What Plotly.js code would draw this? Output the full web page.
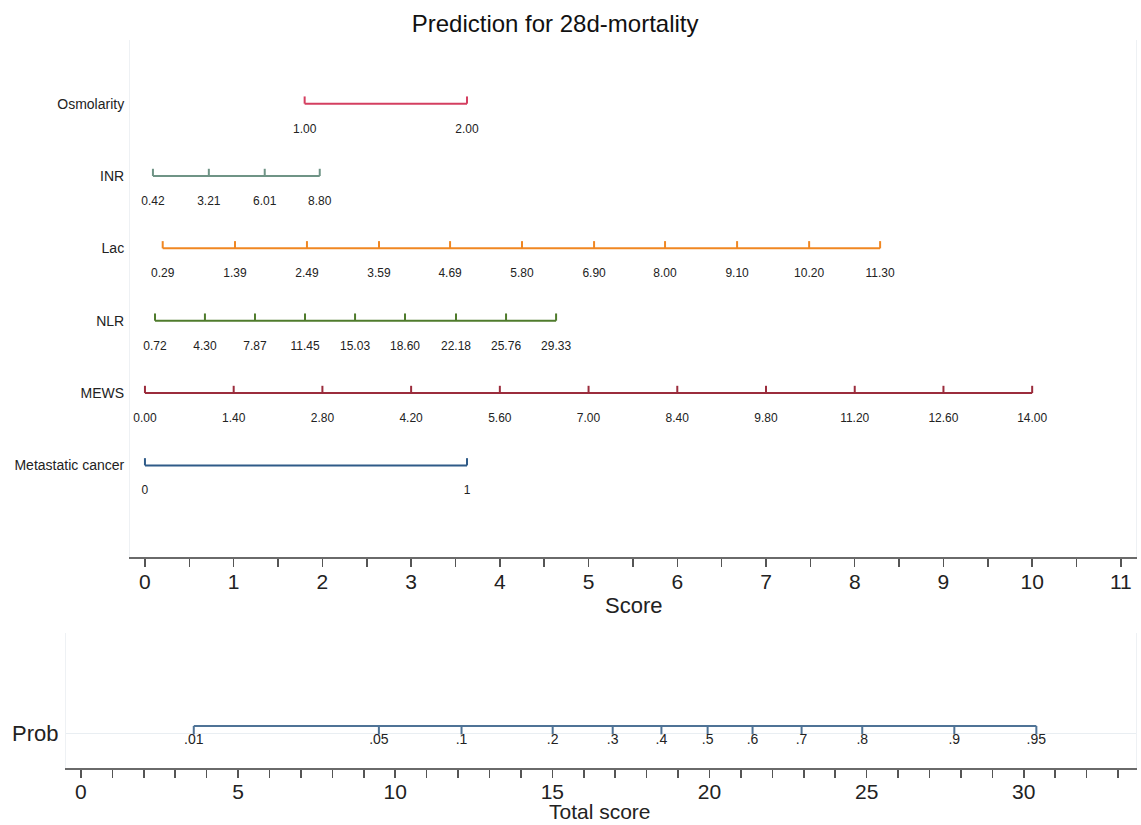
<!DOCTYPE html>
<html>
<head>
<meta charset="utf-8">
<script src="https://cdn.plot.ly/plotly-3.0.1.min.js"></script>
<style>html,body{margin:0;padding:0;background:#fff;}#chart{width:1141px;height:825px;}</style>
</head>
<body>
<div id="chart"></div>
<script>
// ---------- data ----------
const categories = ['Osmolarity', 'INR', 'Lac', 'NLR', 'MEWS', 'Metastatic cancer'];

const osmolarityLabels = ['1.00', '2.00'];
const osmolarityScores = [1.80, 3.63];

const inrLabels = ['0.42', '3.21', '6.01', '8.80'];
const inrScores = [0.09, 0.72, 1.35, 1.97];

const lacLabels = ['0.29', '1.39', '2.49', '3.59', '4.69', '5.80', '6.90', '8.00', '9.10', '10.20', '11.30'];
const lacScores = [0.20, 1.015, 1.826, 2.638, 3.439, 4.25, 5.062, 5.862, 6.674, 7.486, 8.286];

const nlrLabels = ['0.72', '4.30', '7.87', '11.45', '15.03', '18.60', '22.18', '25.76', '29.33'];
const nlrScores = [0.113, 0.676, 1.24, 1.804, 2.368, 2.931, 3.506, 4.07, 4.634];

const mewsLabels = ['0.00', '1.40', '2.80', '4.20', '5.60', '7.00', '8.40', '9.80', '11.20', '12.60', '14.00'];
const mewsScores = [0, 1, 2, 3, 4, 5, 6, 7, 8, 9, 10];

const metaLabels = ['0', '1'];
const metaScores = [0, 3.63];

const probLabels = ['.01', '.05', '.1', '.2', '.3', '.4', '.5', '.6', '.7', '.8', '.9', '.95'];
const probScores = [3.59, 9.48, 12.11, 15.01, 16.92, 18.47, 19.94, 21.37, 22.93, 24.86, 27.79, 30.40];

const scoreTicks = [0, 1, 2, 3, 4, 5, 6, 7, 8, 9, 10, 11];
const totalTicks = [0, 5, 10, 15, 20, 25, 30];

// ---------- styles ----------
const FONT = 'Liberation Sans, Arial, sans-serif';
const colors = ['#d43f60', '#6f9486', '#f08722', '#4f7b2c', '#9b2c3c', '#2f5b88'];
const probColor = '#4f7396';

const rows = [
  [osmolarityLabels, osmolarityScores],
  [inrLabels, inrScores],
  [lacLabels, lacScores],
  [nlrLabels, nlrScores],
  [mewsLabels, mewsScores],
  [metaLabels, metaScores]
];

const traces = [];
const nRows = categories.length;
const tickH = 0.1;     // upward tick height (y units)
const labelOff = 0.36; // label offset below line (y units)

rows.forEach(function (r, i) {
  const labels = r[0], scores = r[1];
  const yRow = nRows - i;
  const xs = [scores[0], scores[scores.length - 1]];
  const ys = [yRow, yRow];
  scores.forEach(function (s) {
    xs.push(null, s, s);
    ys.push(null, yRow, yRow + tickH);
  });
  traces.push({
    type: 'scatter', mode: 'lines', x: xs, y: ys, xaxis: 'x', yaxis: 'y',
    line: {color: colors[i], width: 2}, hoverinfo: 'skip', showlegend: false, connectgaps: false
  });
  traces.push({
    type: 'scatter', mode: 'text', x: scores, y: scores.map(function () { return yRow - labelOff; }),
    text: labels, textposition: 'middle center', xaxis: 'x', yaxis: 'y', cliponaxis: false,
    textfont: {family: FONT, size: 12, color: '#222'}, hoverinfo: 'skip', showlegend: false
  });
});

// probability row
(function () {
  const yLine = 1.2, yTick = 0.96, yLab = 0.78;
  const xs = [probScores[0], probScores[probScores.length - 1]];
  const ys = [yLine, yLine];
  probScores.forEach(function (s) {
    xs.push(null, s, s);
    ys.push(null, yLine, yTick);
  });
  traces.push({
    type: 'scatter', mode: 'lines', x: xs, y: ys, xaxis: 'x2', yaxis: 'y2',
    line: {color: probColor, width: 2}, hoverinfo: 'skip', showlegend: false, connectgaps: false
  });
  traces.push({
    type: 'scatter', mode: 'text', x: probScores, y: probScores.map(function () { return yLab; }),
    text: probLabels, textposition: 'middle center', xaxis: 'x2', yaxis: 'y2', cliponaxis: false,
    textfont: {family: FONT, size: 14, color: '#222'}, hoverinfo: 'skip', showlegend: false
  });
})();

const axisCommon = {
  showline: true, linecolor: '#6a6a6a', linewidth: 2,
  ticks: 'outside', ticklen: 8, tickwidth: 1.5, tickcolor: '#555',
  showgrid: false, zeroline: false, automargin: false,
  tickfont: {family: FONT, size: 21, color: '#222'}
};

const layout = {
  width: 1141, height: 825,
  margin: {l: 0, r: 0, t: 0, b: 0, pad: 0},
  paper_bgcolor: '#ffffff', plot_bgcolor: '#ffffff',
  font: {family: FONT, color: '#222'},
  title: {text: 'Prediction for 28d-mortality', x: 0.4865, xanchor: 'center', y: 0.971, yanchor: 'middle',
          font: {family: FONT, size: 24, color: '#111'}},
  xaxis: Object.assign({}, axisCommon, {
    domain: [0.1139, 0.9956], range: [-0.169, 11.17], anchor: 'y',
    tickvals: scoreTicks, ticktext: scoreTicks.map(String), ticklabelstandoff: -3,
    minor: {dtick: 0.5, tick0: 0, ticks: 'outside', ticklen: 8, tickwidth: 1.5, tickcolor: '#555', showgrid: false}
  }),
  yaxis: {
    domain: [0.3248, 0.9515], range: [-0.267, 6.88], anchor: 'x',
    tickvals: categories.map(function (c, i) { return nRows - i; }), ticktext: categories,
    ticks: '', showgrid: false, zeroline: false, automargin: false, ticklabelstandoff: 2,
    showline: true, linecolor: '#eef1f4', linewidth: 1, mirror: true,
    tickfont: {family: FONT, size: 14, color: '#222'}
  },
  xaxis2: Object.assign({}, axisCommon, {
    domain: [0.0578, 0.9956], range: [-0.477, 33.57], anchor: 'y2',
    tickvals: totalTicks, ticktext: totalTicks.map(String), ticklabelstandoff: -4,
    minor: {dtick: 1, tick0: 0, ticks: 'outside', ticklen: 8, tickwidth: 1.5, tickcolor: '#555', showgrid: false}
  }),
  yaxis2: {
    domain: [0.0691, 0.2327], range: [0, 3.857], anchor: 'x2',
    tickvals: [1], ticktext: ['Prob'], ticklabelstandoff: 2,
    ticks: '', showgrid: true, gridcolor: '#e9eef2', gridwidth: 1, zeroline: false, automargin: false,
    showline: true, linecolor: '#eef1f4', linewidth: 1, mirror: true,
    tickfont: {family: FONT, size: 22, color: '#222'}
  },
  annotations: [
    {text: 'Score', xref: 'paper', yref: 'paper', x: 633 / 1141, y: 1 - 605 / 825,
     xanchor: 'center', yanchor: 'middle', showarrow: false, font: {family: FONT, size: 22, color: '#222'}},
    {text: 'Total score', xref: 'paper', yref: 'paper', x: 600 / 1141, y: 1 - 811 / 825,
     xanchor: 'center', yanchor: 'middle', showarrow: false, font: {family: FONT, size: 21, color: '#222'}}
  ]
};

Plotly.newPlot('chart', traces, layout, {staticPlot: true, displayModeBar: false});
</script>
</body>
</html>
